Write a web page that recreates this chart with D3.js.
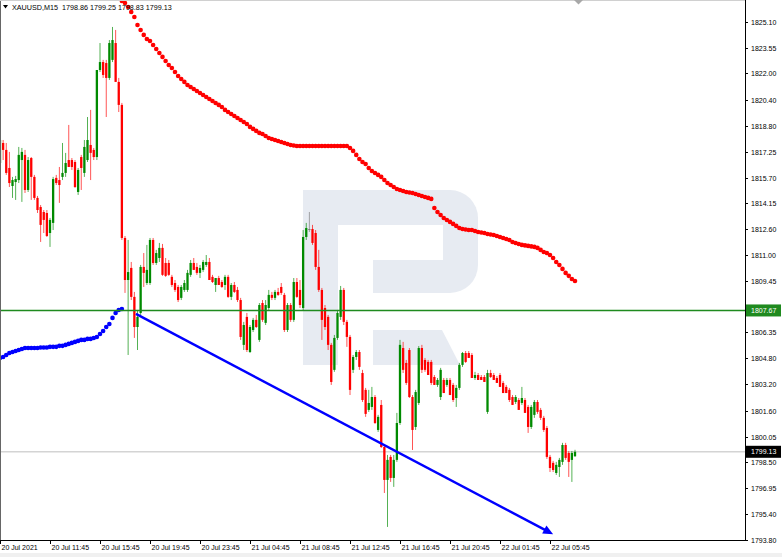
<!DOCTYPE html>
<html><head><meta charset="utf-8">
<script src="https://cdn.jsdelivr.net/npm/d3@7"></script>
<style>
body{margin:0;background:#fff;overflow:hidden}
svg{display:block}
text{font-family:"Liberation Sans",Arial,sans-serif}
</style>
</head><body>
<svg id="c" width="782" height="557"></svg>
<script>
const symbolTitle = "XAUUSD,M15  1798.86 1799.25 1798.83 1799.13";

const open = [1816.58,1817.79,1817.37,1816.28,1815.19,1815.43,1815.55,1816.76,1817.07,1814.95,
1816.88,1815.74,1814.47,1813.92,1813.62,1813.56,1812.35,1812.96,1815.68,1815.55,
1815.74,1815.98,1816.76,1816.76,1816.64,1814.83,1816.94,1815.98,1816.76,1817.67,
1817.37,1816.94,1822.20,1822.68,1822.62,1821.72,1822.81,1823.83,1821.48,1820.09,
1812.05,1809.51,1810.24,1808.49,1806.67,1807.52,1810.30,1809.33,1809.33,1811.93,
1810.54,1810.84,1811.45,1810.54,1810.54,1809.70,1809.33,1809.09,1808.43,1808.91,
1808.91,1809.82,1810.54,1810.30,1809.94,1810.12,1810.42,1810.60,1809.70,1809.21,
1809.63,1809.39,1809.21,1809.70,1808.49,1809.21,1808.91,1808.30,1805.59,1807.28,
1805.16,1806.49,1807.10,1805.89,1808.12,1806.92,1807.82,1808.61,1808.43,1808.79,
1809.09,1808.61,1806.49,1808.00,1807.10,1809.39,1808.91,1807.82,1812.11,1812.59,
1812.59,1812.35,1810.30,1808.91,1807.82,1807.28,1805.59,1804.08,1806.01,1807.28,
1808.91,1806.98,1806.07,1804.08,1804.86,1805.16,1803.89,1802.87,1801.66,1801.84,
1802.44,1800.45,1801.96,1799.42,1797.43,1798.82,1797.55,1798.64,1800.87,1805.40,
1804.50,1805.28,1802.44,1800.63,1802.08,1805.40,1804.68,1804.56,1804.56,1803.65,
1803.17,1802.44,1803.47,1803.17,1803.47,1803.17,1802.38,1802.99,1804.38,1805.10,
1805.10,1804.98,1803.59,1803.77,1803.65,1803.65,1801.54,1803.89,1803.77,1803.59,
1803.77,1803.29,1803.05,1802.87,1802.44,1802.14,1802.26,1802.08,1802.26,1801.84,
1800.63,1801.36,1802.14,1801.66,1801.18,1800.57,1798.82,1798.46,1797.85,1798.21,
1798.52,1799.54,1799.06,1798.64,1798.86];

const high = [1818.09,1817.97,1817.79,1817.25,1815.74,1815.80,1817.55,1817.49,1817.37,1816.94,
1816.94,1815.86,1814.59,1814.04,1813.74,1813.74,1813.26,1815.74,1815.86,1816.34,
1817.79,1817.19,1818.88,1816.88,1816.76,1816.28,1817.07,1817.97,1819.36,1819.79,
1817.49,1817.07,1823.83,1822.81,1822.81,1824.01,1824.80,1824.62,1821.72,1820.21,
1812.17,1811.93,1810.60,1808.79,1807.70,1810.42,1811.14,1811.63,1812.05,1812.05,
1811.33,1811.75,1811.69,1810.84,1810.72,1809.82,1809.51,1809.21,1809.21,1809.51,
1810.12,1810.72,1810.84,1810.54,1810.42,1810.72,1811.02,1810.84,1809.82,1809.63,
1809.76,1809.51,1809.82,1809.82,1809.33,1809.39,1809.09,1808.43,1806.98,1807.52,
1806.79,1807.22,1807.40,1808.12,1808.30,1808.30,1808.91,1808.79,1808.91,1809.03,
1809.33,1808.73,1808.12,1808.12,1809.63,1809.63,1809.51,1812.53,1812.96,1813.62,
1812.84,1812.53,1811.33,1809.03,1808.00,1807.40,1805.71,1806.19,1807.70,1809.15,
1809.03,1807.10,1806.19,1804.98,1805.28,1805.28,1804.08,1802.99,1802.87,1803.05,
1802.56,1801.36,1802.26,1799.54,1798.94,1798.94,1798.94,1801.48,1805.89,1805.77,
1804.68,1805.40,1802.56,1802.87,1805.52,1805.59,1804.80,1804.68,1804.68,1803.77,
1803.59,1804.20,1803.59,1803.59,1803.59,1803.29,1803.17,1804.50,1805.16,1805.22,
1805.22,1805.10,1803.96,1803.89,1803.77,1803.77,1804.08,1804.08,1803.89,1803.71,
1803.89,1803.41,1803.17,1802.99,1802.56,1802.56,1802.38,1803.05,1802.38,1801.96,
1801.96,1802.26,1802.26,1801.78,1801.30,1800.69,1798.94,1798.58,1798.52,1798.76,
1799.67,1799.67,1799.18,1799.18,1799.25];

const low = [1816.46,1816.76,1815.86,1815.13,1814.47,1814.35,1815.37,1814.23,1814.77,1814.83,
1814.35,1814.35,1813.56,1811.81,1812.35,1812.11,1811.51,1812.53,1815.25,1814.17,
1815.55,1815.74,1816.34,1816.16,1815.07,1814.65,1814.95,1815.74,1816.64,1815.55,
1816.76,1816.76,1822.08,1821.72,1819.36,1821.60,1822.68,1821.48,1819.66,1811.93,
1808.73,1804.98,1808.30,1806.01,1805.28,1807.34,1809.09,1809.21,1809.21,1810.42,
1810.42,1810.60,1809.76,1809.70,1809.76,1809.09,1808.79,1808.18,1808.30,1808.79,
1808.79,1809.70,1810.12,1809.82,1809.63,1810.00,1810.30,1809.51,1809.33,1808.79,
1809.21,1809.03,1808.91,1808.43,1808.30,1808.73,1808.18,1805.89,1805.28,1805.16,
1805.10,1806.37,1806.61,1805.77,1806.98,1806.79,1807.70,1808.30,1808.30,1808.55,
1808.61,1806.37,1806.37,1806.98,1806.98,1808.43,1807.82,1807.70,1811.93,1812.41,
1811.63,1810.12,1808.79,1805.89,1806.49,1805.28,1803.17,1803.96,1805.89,1807.10,
1806.79,1805.47,1802.56,1803.89,1804.68,1804.08,1802.14,1801.24,1801.54,1801.66,
1800.81,1800.33,1799.36,1796.64,1794.59,1797.31,1797.01,1798.52,1800.75,1803.89,
1803.17,1802.38,1799.24,1800.45,1801.96,1803.89,1803.96,1803.77,1803.17,1803.17,
1803.05,1802.26,1802.68,1803.05,1802.56,1802.14,1801.84,1802.87,1804.26,1804.50,
1804.80,1803.59,1803.47,1803.47,1803.47,1803.35,1801.42,1803.59,1803.47,1803.29,
1803.05,1802.68,1802.68,1802.14,1801.96,1802.02,1801.66,1801.96,1801.48,1800.27,
1800.51,1801.18,1801.42,1801.05,1800.33,1798.70,1797.91,1797.91,1797.73,1797.61,
1798.34,1798.64,1797.61,1797.31,1798.83];

const close = [1817.97,1817.37,1815.98,1815.37,1815.55,1815.61,1817.07,1817.25,1814.95,1816.76,
1815.74,1814.47,1813.74,1812.84,1813.14,1812.17,1813.14,1815.61,1815.37,1815.25,
1815.98,1816.58,1816.34,1816.34,1815.13,1816.16,1816.28,1817.55,1817.97,1817.19,
1816.94,1822.20,1822.68,1821.90,1821.72,1823.83,1824.01,1821.48,1820.09,1812.05,
1809.51,1809.99,1808.49,1806.67,1807.28,1810.30,1809.94,1810.12,1811.93,1810.54,
1811.14,1811.45,1809.82,1809.76,1809.82,1809.21,1808.91,1808.30,1809.09,1809.33,
1809.94,1810.54,1810.12,1809.94,1810.24,1810.60,1810.60,1809.51,1809.39,1809.63,
1809.21,1809.09,1809.70,1808.49,1809.21,1808.79,1808.30,1806.07,1806.79,1805.28,
1806.67,1807.10,1806.67,1808.00,1807.10,1808.00,1808.61,1808.43,1808.79,1808.61,
1808.73,1806.49,1808.00,1807.10,1809.39,1808.49,1808.00,1812.11,1812.65,1812.59,
1811.75,1810.30,1808.91,1807.10,1806.67,1805.59,1803.35,1806.01,1807.52,1808.91,
1806.98,1806.07,1802.87,1804.86,1805.16,1804.26,1802.26,1801.42,1802.08,1802.44,
1800.87,1801.24,1799.42,1797.43,1798.64,1797.55,1798.64,1800.87,1805.59,1804.08,
1803.29,1802.44,1800.45,1802.74,1805.40,1804.08,1804.08,1803.77,1803.29,1803.17,
1803.47,1804.08,1802.68,1803.47,1802.56,1802.26,1802.99,1804.38,1805.10,1804.56,
1804.80,1803.59,1803.77,1803.47,1803.47,1803.35,1803.89,1803.65,1803.47,1803.29,
1803.05,1802.68,1802.68,1802.26,1801.96,1802.44,1801.66,1802.38,1801.48,1800.63,
1801.84,1802.14,1801.54,1801.18,1800.45,1798.82,1798.15,1798.03,1798.34,1798.64,
1799.54,1798.76,1798.52,1799.06,1799.13];

// indicator dots: blue from bar 0, red from bar 39
const blueStart = 0;
const blueDots = [1804.80,1804.86,1804.98,1805.10,1805.16,1805.22,1805.28,1805.34,1805.40,1805.40,
1805.40,1805.40,1805.40,1805.43,1805.43,1805.43,1805.47,1805.47,1805.47,1805.53,
1805.53,1805.59,1805.65,1805.71,1805.77,1805.83,1805.89,1805.89,1805.95,1805.95,
1806.01,1806.07,1806.25,1806.43,1806.67,1806.85,1807.22,1807.52,1807.70,1807.76];
const redStart = 39;
const redDots = [1826.37,1826.25,1826.01,1825.70,1825.40,1824.92,1824.62,1824.32,1824.07,1823.95,
1823.71,1823.47,1823.23,1822.99,1822.74,1822.50,1822.32,1822.08,1821.84,1821.66,
1821.48,1821.29,1821.17,1821.05,1820.93,1820.81,1820.69,1820.57,1820.45,1820.33,
1820.21,1820.09,1819.96,1819.79,1819.66,1819.54,1819.42,1819.30,1819.18,1819.06,
1818.94,1818.76,1818.64,1818.52,1818.40,1818.33,1818.21,1818.09,1818.03,1817.97,
1817.91,1817.85,1817.79,1817.73,1817.67,1817.64,1817.61,1817.61,1817.61,1817.61,
1817.61,1817.61,1817.61,1817.61,1817.61,1817.61,1817.61,1817.61,1817.61,1817.61,
1817.61,1817.61,1817.61,1817.49,1817.31,1817.07,1816.82,1816.64,1816.52,1816.28,
1816.10,1815.98,1815.86,1815.74,1815.55,1815.37,1815.25,1815.13,1815.01,1814.95,
1814.89,1814.83,1814.80,1814.77,1814.71,1814.65,1814.59,1814.53,1814.47,1814.41,
1813.86,1813.62,1813.44,1813.26,1813.14,1813.02,1812.90,1812.78,1812.65,1812.59,
1812.56,1812.53,1812.53,1812.47,1812.41,1812.38,1812.35,1812.29,1812.26,1812.23,
1812.17,1812.11,1812.05,1811.99,1811.93,1811.81,1811.75,1811.69,1811.63,1811.60,
1811.57,1811.54,1811.51,1811.45,1811.33,1811.20,1811.14,1811.02,1810.84,1810.60,
1810.42,1810.18,1809.94,1809.76,1809.57,1809.45];

const priceTicks = [1825.10,1823.55,1822.00,1820.40,1818.80,1817.25,1815.70,1814.15,1812.60,1811.00,
1809.45,1807.90,1806.35,1804.80,1803.20,1801.60,1800.05,1798.50,1796.95,1795.40,1793.80];
const timeTickBars = [0,16,32,48,64,80,96,112,128,144,160,176];
const timeTickLabels = ["20 Jul 2021","20 Jul 11:45","20 Jul 15:45","20 Jul 19:45","20 Jul 23:45",
"21 Jul 04:45","21 Jul 08:45","21 Jul 12:45","21 Jul 16:45","21 Jul 20:45","22 Jul 01:45","22 Jul 05:45"];
const levelPrice = 1807.67;
const lastPrice = 1799.13;
const trendStart = [43.5, 1807.46];
const trendEnd = [177, 1794.15];
const visibleBars = 238.4;

const plotR = 745, plotB = 540;
const svg = d3.select("#c");
const x = d3.scaleLinear().domain([0, visibleBars]).range([0, plotR]);
const y = d3.scaleLinear().domain([1793.80, 1825.10]).range([plotB, 22]);

svg.append("rect").attr("width",782).attr("height",557).attr("fill","#fff");
svg.append("rect").attr("x",0).attr("y",553).attr("width",782).attr("height",4).attr("fill","#f0f0f0");

svg.append("defs").append("clipPath").attr("id","plot")
  .append("rect").attr("x",0).attr("y",0).attr("width",plotR).attr("height",plotB);
const g = svg.append("g").attr("clip-path","url(#plot)");

// watermark logo
const logo = g.append("g").attr("fill","#e7ebf2");
logo.append("rect").attr("x",303).attr("y",190).attr("width",35).attr("height",175);
logo.append("rect").attr("x",338).attr("y",190).attr("width",106).attr("height",35);
logo.append("path").attr("d","M443,190 H450 A28,28 0 0 1 478,218 V265 A28,28 0 0 1 450,293 H443 Z");
logo.append("rect").attr("x",373).attr("y",260).attr("width",71).attr("height",33);
logo.append("path").attr("d","M373,330 H442 L460,365 H373 Z");

// current price line (behind candles)
g.append("line").attr("x1",0).attr("x2",plotR).attr("y1",y(lastPrice)).attr("y2",y(lastPrice))
  .attr("stroke","#d4d4d4").attr("stroke-width",1.6);

const bars = open.map((o,i)=>({i,o,h:high[i],l:low[i],c:close[i]}));
const col = d => d.c > d.o ? "#008a00" : (d.c < d.o ? "#ff0000" : "#7a7a7a");
const cg = g.append("g");
cg.selectAll("line.w").data(bars).join("line").attr("class","w")
  .attr("x1",d=>x(d.i)).attr("x2",d=>x(d.i))
  .attr("y1",d=>y(d.h)).attr("y2",d=>y(d.l))
  .attr("stroke",col).attr("stroke-width",0.9).attr("stroke-opacity",0.75);
cg.selectAll("rect.b").data(bars).join("rect").attr("class","b")
  .attr("x",d=>x(d.i)-1.15).attr("width",2.3)
  .attr("y",d=>y(Math.max(d.o,d.c)))
  .attr("height",d=>Math.max(1,Math.abs(y(d.o)-y(d.c))))
  .attr("fill",col);

// indicator dots
g.append("g").selectAll("circle").data(blueDots).join("circle")
  .attr("cx",(d,k)=>x(blueStart+k)).attr("cy",d=>y(d)).attr("r",2.3).attr("fill","#0000ff");
g.append("g").selectAll("circle").data(redDots).join("circle")
  .attr("cx",(d,k)=>x(redStart+k)).attr("cy",d=>y(d)).attr("r",2.3).attr("fill","#ff0000");

// horizontal level
g.append("line").attr("x1",0).attr("x2",plotR).attr("y1",y(levelPrice)).attr("y2",y(levelPrice))
  .attr("stroke","#1f8a1f").attr("stroke-width",1.6);

// trend line with arrow
const tx1=x(trendStart[0]), ty1=y(trendStart[1]), tx2=x(trendEnd[0]), ty2=y(trendEnd[1]);
const ang = Math.atan2(ty2-ty1, tx2-tx1);
const back = 10;
g.append("line").attr("x1",tx1).attr("y1",ty1)
  .attr("x2",tx2-Math.cos(ang)*back*0.6).attr("y2",ty2-Math.sin(ang)*back*0.6)
  .attr("stroke","#0000ff").attr("stroke-width",2.4);
const ax = tx2 - Math.cos(ang)*back, ay = ty2 - Math.sin(ang)*back;
const px = -Math.sin(ang)*4.5, py = Math.cos(ang)*4.5;
g.append("path").attr("d",`M${tx2},${ty2} L${ax+px},${ay+py} L${ax-px},${ay-py} Z`).attr("fill","#0000ff");

// frame & axes
svg.append("line").attr("x1",0.5).attr("x2",0.5).attr("y1",0).attr("y2",plotB).attr("stroke","#666");
svg.append("line").attr("x1",0).attr("x2",plotR).attr("y1",0.5).attr("y2",0.5).attr("stroke","#d0d0d0");
svg.append("line").attr("x1",plotR+0.5).attr("x2",plotR+0.5).attr("y1",0).attr("y2",plotB+0.5).attr("stroke","#000");
svg.append("line").attr("x1",0).attr("x2",plotR+0.5).attr("y1",plotB+0.5).attr("y2",plotB+0.5).attr("stroke","#000");

const ya = svg.append("g");
priceTicks.forEach(v=>{
  const yy = Math.round(y(v))+0.5;
  ya.append("line").attr("x1",plotR).attr("x2",plotR+3).attr("y1",yy).attr("y2",yy).attr("stroke","#000");
  // a tick label hidden under the level tag is not drawn
  if (Math.abs(y(v) - y(levelPrice)) < 8) return;
  ya.append("text").attr("x",751).attr("y",yy+2.5).attr("font-size","7px").attr("fill","#000").text(v.toFixed(2));
});
const xa = svg.append("g");
timeTickBars.forEach((b,k)=>{
  const xx = Math.round(x(b))+0.5;
  xa.append("line").attr("x1",xx).attr("x2",xx).attr("y1",plotB).attr("y2",plotB+4).attr("stroke","#000");
  xa.append("text").attr("x",xx+1).attr("y",550).attr("font-size","7px").attr("fill","#000").text(timeTickLabels[k]);
});

function priceTag(v, bg){
  const yy = y(v);
  svg.append("rect").attr("x",plotR+1).attr("y",yy-6).attr("width",35).attr("height",12).attr("fill",bg);
  svg.append("text").attr("x",751).attr("y",yy+2.5).attr("font-size","7px").attr("fill","#fff").text(v.toFixed(2));
}
priceTag(levelPrice, "#1f8a1f");
priceTag(lastPrice, "#000");

// shift marker
svg.append("path").attr("d","M574,0 L583,0 L578.5,4.5 Z").attr("fill","#a8a8a8");

// title
svg.append("path").attr("d","M3,5 L8,5 L5.5,8.5 Z").attr("fill","#000");
svg.append("text").attr("x",12).attr("y",10).attr("font-size","7.2px").attr("fill","#000")
  .attr("xml:space","preserve").style("white-space","pre").text(symbolTitle);
</script>
</body></html>
